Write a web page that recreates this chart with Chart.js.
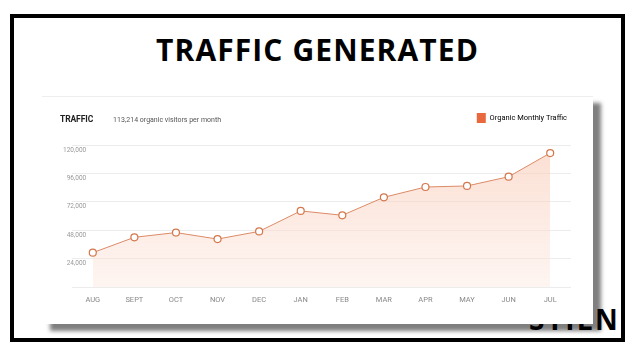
<!DOCTYPE html>
<html>
<head>
<meta charset="utf-8">
<script src="https://cdn.jsdelivr.net/npm/chart.js@4/dist/chart.umd.min.js"></script>
<style>
  html, body { margin: 0; padding: 0; background: #fff; }
  body { width: 638px; height: 359px; position: relative; overflow: hidden; }
  #frame { position: absolute; left: 10px; top: 14px; width: 607px; height: 320px; border: 4px solid #000; }
  #title { position: absolute; left: 10px; width: 615px; top: 29px; text-align: center;
    font: 700 30px "Open Sans", sans-serif; color: #000; letter-spacing: 1.1px; }
  #logo { position: absolute; left: 529px; top: 300px; font: 700 28px "Open Sans", sans-serif;
    letter-spacing: 2.3px; color: #000; z-index: 1; }
  #card { position: absolute; left: 42px; top: 96px; width: 551px; height: 227px; background: #fff;
    border-top: 1px solid #eee; box-shadow: 8px 7px 4px rgba(0,0,0,0.5); z-index: 2; }
  #head { position: absolute; left: 18px; top: 10px; font-family: Roboto, sans-serif; white-space: nowrap; }
  #head b { font-size: 8.5px; color: #222; letter-spacing: -0.1px; }
  #head span { font-size: 7px; color: #555; margin-left: 20px; }
  canvas { position: absolute; left: 0; top: 0; }
</style>
</head>
<body>
<div id="frame"></div>
<div id="title">TRAFFIC GENERATED</div>
<div id="logo">STILN</div>
<div id="card">
  <canvas id="trafficChart" width="551" height="227"></canvas>
  <div id="head"><b>TRAFFIC</b><span>113,214 organic visitors per month</span></div>
</div>
<script>
  var months = ["AUG", "SEPT", "OCT", "NOV", "DEC", "JAN", "FEB", "MAR", "APR", "MAY", "JUN", "JUL"];
  var visitors = [29000, 42000, 46000, 40500, 47000, 64300, 60600, 75800, 84500, 85400, 93200, 113214];
  var yTicks = [24000, 48000, 72000, 96000, 120000];

  // extra space under the legend
  var legendGap = {
    id: 'legendGap',
    beforeInit: function (chart) {
      var fit = chart.legend.fit;
      chart.legend.fit = function () {
        fit.bind(chart.legend)();
        this.height += 12;
      };
    }
  };

  var ctx = document.getElementById('trafficChart').getContext('2d');
  var myChart = new Chart(ctx, {
    type: 'line',
    plugins: [legendGap],
    data: {
      labels: months,
      datasets: [{
        label: "Organic Monthly Traffic",
        data: visitors,
        borderColor: "#dc8a66",
        borderWidth: 1,
        tension: 0,
        fill: 'origin',
        backgroundColor: function (c) {
          var area = c.chart.chartArea;
          if (!area) return 'rgba(250,215,200,0.5)';
          var g = c.chart.ctx.createLinearGradient(0, area.top, 0, area.bottom);
          g.addColorStop(0, 'rgba(249,200,178,0.6)');
          g.addColorStop(1, 'rgba(252,232,224,0.45)');
          return g;
        },
        pointRadius: 3.5,
        pointBorderWidth: 1.2,
        pointBackgroundColor: "#fff",
        pointBorderColor: "#d4774c"
      }]
    },
    options: {
      responsive: false,
      animation: false,
      layout: { padding: { left: 0, right: 22, top: 12, bottom: 0 } },
      plugins: {
        tooltip: { enabled: false },
        legend: {
          display: true,
          position: 'top',
          align: 'end',
          labels: {
            boxWidth: 9,
            boxHeight: 10,
            padding: 4,
            color: '#444',
            font: { family: 'Roboto', size: 7.5 },
            generateLabels: function (chart) {
              return [{ text: chart.data.datasets[0].label, fillStyle: '#e8693d', strokeStyle: '#e8693d', lineWidth: 0, datasetIndex: 0 }];
            }
          }
        }
      },
      scales: {
        x: {
          offset: true,
          grid: { display: false, drawTicks: false },
          border: { display: false },
          ticks: { color: '#888', padding: 9, font: { family: 'Roboto', size: 7.5 } },
          afterFit: function (s) { s.height = 37; }
        },
        y: {
          min: 0,
          max: 120000,
          afterBuildTicks: function (s) { s.ticks = [0].concat(yTicks).map(function (v) { return { value: v }; }); },
          grid: { color: '#ececec', drawTicks: false, lineWidth: 1 },
          border: { display: false },
          ticks: {
            color: '#999',
            mirror: true,
            crossAlign: 'far',
            padding: -9,
            labelOffset: 5,
            font: { family: 'Roboto', size: 6.5 },
            callback: function (v) { return v === 0 ? '' : v.toLocaleString('en-US'); }
          },
          afterFit: function (s) { s.width = 30; }
        }
      }
    }
  });
</script>
</body>
</html>
